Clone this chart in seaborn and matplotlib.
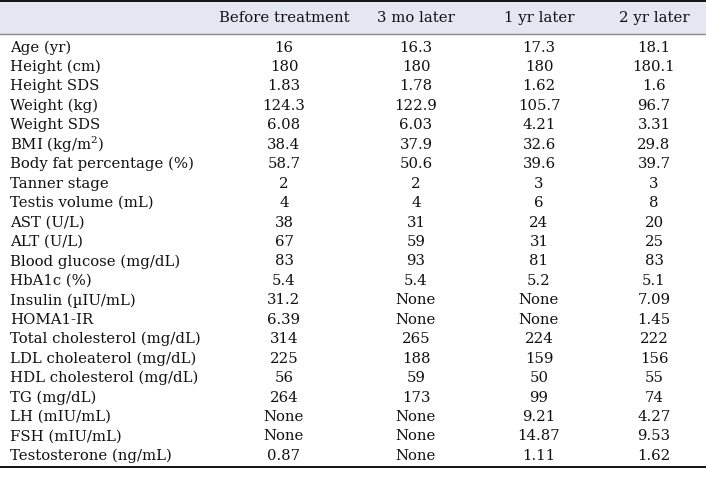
import matplotlib
matplotlib.use("Agg")
import matplotlib.pyplot as plt
import seaborn as sns

# ---- table content ----
columns = ["Before treatment", "3 mo later", "1 yr later", "2 yr later"]
row_labels = [
    "Age (yr)", "Height (cm)", "Height SDS", "Weight (kg)", "Weight SDS",
    "BMI (kg/m$^2$)", "Body fat percentage (%)", "Tanner stage",
    "Testis volume (mL)", "AST (U/L)", "ALT (U/L)", "Blood glucose (mg/dL)",
    "HbA1c (%)", "Insulin (\u00b5IU/mL)", "HOMA1-IR", "Total cholesterol (mg/dL)",
    "LDL choleaterol (mg/dL)", "HDL cholesterol (mg/dL)", "TG (mg/dL)",
    "LH (mIU/mL)", "FSH (mIU/mL)", "Testosterone (ng/mL)",
]
before = ["16", "180", "1.83", "124.3", "6.08", "38.4", "58.7", "2", "4", "38",
          "67", "83", "5.4", "31.2", "6.39", "314", "225", "56", "264",
          "None", "None", "0.87"]
mo3 = ["16.3", "180", "1.78", "122.9", "6.03", "37.9", "50.6", "2", "4", "31",
       "59", "93", "5.4", "None", "None", "265", "188", "59", "173",
       "None", "None", "None"]
yr1 = ["17.3", "180", "1.62", "105.7", "4.21", "32.6", "39.6", "3", "6", "24",
       "31", "81", "5.2", "None", "None", "224", "159", "50", "99",
       "9.21", "14.87", "1.11"]
yr2 = ["18.1", "180.1", "1.6", "96.7", "3.31", "29.8", "39.7", "3", "8", "20",
       "25", "83", "5.1", "7.09", "1.45", "222", "156", "55", "74",
       "4.27", "9.53", "1.62"]
values = [before, mo3, yr1, yr2]

# ---- layout (pixels) ----
W, H = 706, 480
col_x = [284, 416, 539, 654]
label_x = 10
first_row_px, row_step_px = 47.5, 19.45
header_px = 18


def px_to_row(p):
    return (p - first_row_px) / row_step_px


sns.set_theme(style="white")
plt.rcParams["font.family"] = ["DejaVu Serif"]
plt.rcParams["mathtext.fontset"] = "dejavuserif"

fig = plt.figure(figsize=(W / 100, H / 100), dpi=100)
ax = fig.add_axes([0, 0, 1, 1])
ax.set_xlim(0, W)
ax.set_ylim(px_to_row(H), px_to_row(0))
ax.axis("off")

fs = 10.7
ink = "#111111"
# header band
ax.axhspan(px_to_row(1.5), px_to_row(33.5), color="#e4e6f2", lw=0, zorder=0)
ax.axhline(px_to_row(1.5), color="#111111", lw=1.4)
ax.axhline(px_to_row(33.5), color="#8a8a8a", lw=1.0)
ax.axhline(px_to_row(467), color="#111111", lw=1.4)

for x, name in zip(col_x, columns):
    ax.text(x, px_to_row(header_px), name, ha="center", va="center",
            fontsize=fs, color=ink)

for i, label in enumerate(row_labels):
    ax.text(label_x, i, label, ha="left", va="center", fontsize=fs, color=ink)
    for x, col in zip(col_x, values):
        ax.text(x, i, col[i], ha="center", va="center", fontsize=fs, color=ink)

fig.savefig("out.png", dpi=100)
plt.close(fig)
